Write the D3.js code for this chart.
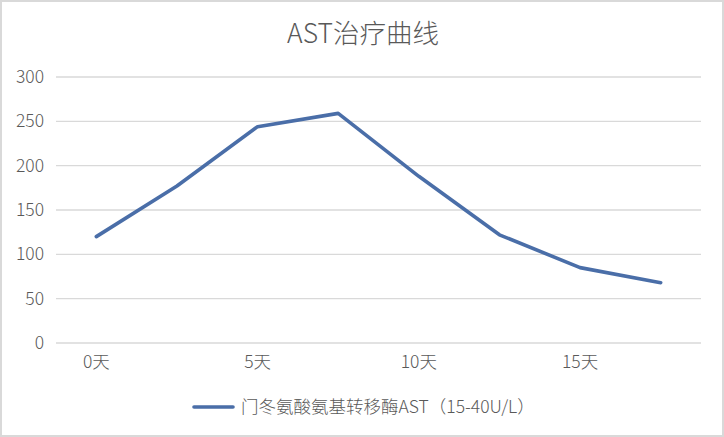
<!DOCTYPE html>
<html>
<head>
<meta charset="utf-8">
<script src="https://cdn.jsdelivr.net/npm/d3@7"></script>
<style>
  body { margin: 0; background: #fff; }
  svg { display: block; }
  text { font-family: "Noto Sans CJK SC", "Noto Sans", sans-serif; fill: #595959; }
</style>
</head>
<body>
<svg id="chart" width="724" height="437"></svg>
<script>
var title = "AST治疗曲线";
var days = ["0天", "2天", "5天", "7天", "10天", "12天", "15天", "17天"];
var tickLabels = ["0天", "5天", "10天", "15天"];
var astValues = [120, 177, 244, 259, 188, 122, 85, 68];
var seriesName = "门冬氨酸氨基转移酶AST（15-40U/L）";
var yTicks = [0, 50, 100, 150, 200, 250, 300];

var margin = {top: 77, left: 56, right: 23, bottom: 94};

var svg = d3.select("#chart");
var W = +svg.attr("width"), H = +svg.attr("height");
var w = W - margin.left - margin.right;
var h = H - margin.top - margin.bottom;

// chart border
svg.append("rect")
    .attr("x", 1).attr("y", 1)
    .attr("width", W - 2).attr("height", H - 2)
    .attr("fill", "#fff").attr("stroke", "#d9d9d9").attr("stroke-width", 2);

svg.append("text")
    .attr("x", W / 2 + 1).attr("y", 43)
    .attr("text-anchor", "middle")
    .attr("font-size", 26.5)
    .attr("font-weight", 300)
    .text(title);

var g = svg.append("g")
    .attr("transform", "translate(" + margin.left + "," + margin.top + ")");

var x = d3.scaleBand().domain(days).range([0, w]);
var y = d3.scaleLinear().domain([0, 300]).range([h, 0]);

// gridlines
g.selectAll(".grid")
    .data(yTicks)
    .enter().append("line")
    .attr("x1", 0).attr("x2", w)
    .attr("y1", function(d) { return y(d); })
    .attr("y2", function(d) { return y(d); })
    .attr("stroke", "#d9d9d9").attr("stroke-width", 1.3);

var yAxis = g.append("g")
    .call(d3.axisLeft(y).tickValues(yTicks).tickSize(0).tickPadding(12));
yAxis.select(".domain").remove();
yAxis.selectAll("text").attr("font-size", 17.5).attr("fill", "#595959")
    .style("font-family", "\"Noto Sans CJK SC\", sans-serif").attr("font-weight", 300);

var xAxis = g.append("g")
    .attr("transform", "translate(0," + h + ")")
    .call(d3.axisBottom(x).tickSize(0).tickPadding(13)
        .tickFormat(function(d) { return tickLabels.indexOf(d) >= 0 ? d : ""; }));
xAxis.select(".domain").remove();
xAxis.selectAll("text").attr("font-size", 17.5).attr("fill", "#595959")
    .style("font-family", "\"Noto Sans CJK SC\", sans-serif").attr("font-weight", 300);

var line = d3.line()
    .x(function(d, i) { return x(days[i]) + x.bandwidth() / 2; })
    .y(function(d) { return y(d); });

g.append("path")
    .datum(astValues)
    .attr("fill", "none")
    .attr("stroke", "#4a6ea8")
    .attr("stroke-width", 3.6)
    .attr("stroke-linejoin", "round")
    .attr("stroke-linecap", "round")
    .attr("d", line);

// legend
var lg = svg.append("g").attr("transform", "translate(193,407)");
lg.append("line")
    .attr("x1", 1).attr("x2", 40)
    .attr("stroke", "#4a6ea8").attr("stroke-width", 3.6)
    .attr("stroke-linecap", "round");
lg.append("text")
    .attr("x", 48).attr("y", 6)
    .attr("font-size", 17.5).attr("font-weight", 300)
    .text(seriesName);
</script>
</body>
</html>
